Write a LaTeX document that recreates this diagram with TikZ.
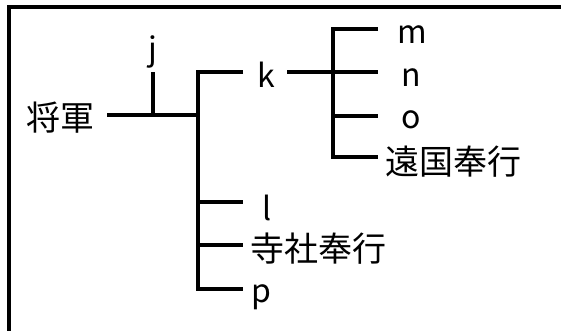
\documentclass[tikz,border=0pt]{standalone}
\usepackage{fontspec}
\setmainfont{Noto Sans CJK JP}
\begin{document}
\begin{tikzpicture}[x=1pt,y=-1pt,
  lbl/.style={inner sep=0pt, font=\fontsize{32}{36}\selectfont},
  cjk/.style={inner sep=0pt, font=\fontsize{34}{38}\selectfont},
  conn/.style={line width=4pt, line cap=butt, line join=miter},
  frame/.style={line width=4.5pt, line join=miter}]
\useasboundingbox (0,0) rectangle (561,330);
% frame
\draw[frame] (9,334) -- (9,7) -- (565,7);
% labels
\node[cjk] (shogun) at (60,118) {将軍};
\node[lbl] (j) at (153,52) {j};
\node[lbl] (k) at (266,75) {k};
\node[lbl] (m) at (412,35) {m};
\node[lbl] (n) at (411,78) {n};
\node[lbl] (o) at (411,120) {o};
\node[cjk] (ongoku) at (453,162) {遠国奉行};
\node[lbl] (l) at (267,208) {l};
\node[cjk] (jisha) at (318,249) {寺社奉行};
\node[lbl] (p) at (261,297) {p};
% junction coordinates
\coordinate (s0) at (107,115);
\coordinate (jb) at (153,115);
\coordinate (jt) at (153,72);
\coordinate (h1) at (198,115);
\coordinate (kc) at (198,72);
\coordinate (ke) at (243,72);
\coordinate (lc) at (198,202);
\coordinate (le) at (243,202);
\coordinate (jc) at (198,245);
\coordinate (je) at (243,245);
\coordinate (pc) at (198,289);
\coordinate (pe) at (243,289);
\coordinate (k2) at (287,72);
\coordinate (nc) at (333,72);
\coordinate (ne) at (378,72);
\coordinate (mc) at (333,29);
\coordinate (me) at (378,29);
\coordinate (oc) at (333,116);
\coordinate (oe) at (378,116);
\coordinate (gc) at (333,157);
\coordinate (ge) at (378,157);
% connectors
\draw[conn] (s0) -- (h1);
\draw[conn] (jb) -- (jt);
\draw[conn] (ke) -- (kc) -- (pc) -- (pe);
\draw[conn] (lc) -- (le);
\draw[conn] (jc) -- (je);
\draw[conn] (k2) -- (ne);
\draw[conn] (me) -- (mc) -- (gc) -- (ge);
\draw[conn] (oc) -- (oe);
\end{tikzpicture}
\end{document}
